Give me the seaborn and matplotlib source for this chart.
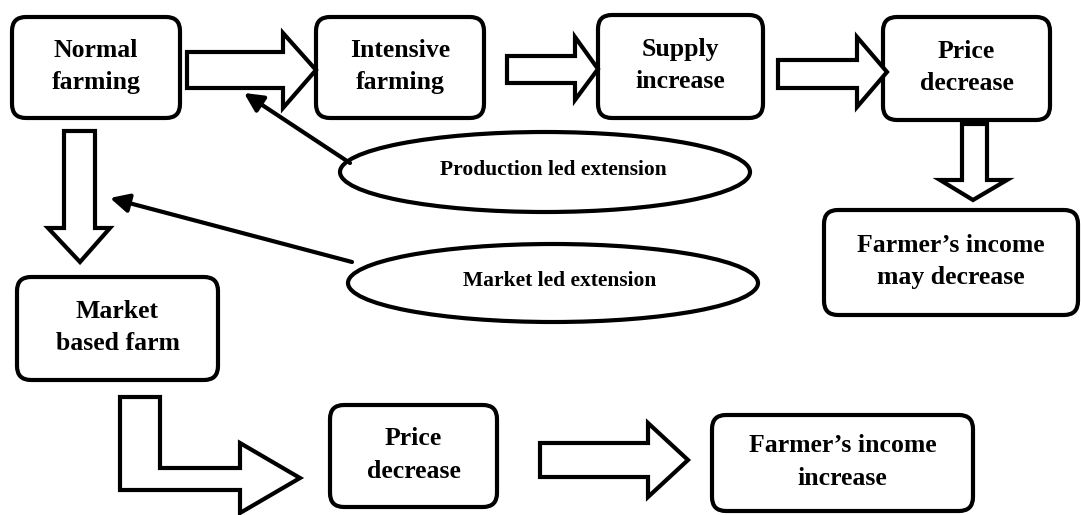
import seaborn as sns
import matplotlib.pyplot as plt
from matplotlib.patches import FancyBboxPatch, Ellipse, Polygon

# Flowchart content
box_labels = ["Normal\nfarming", "Intensive\nfarming", "Supply\nincrease", "Price\ndecrease",
              "Farmer\u2019s income\nmay decrease", "Market\nbased farm", "Price\ndecrease",
              "Farmer\u2019s income\nincrease"]
box_x0 = [12, 316, 598, 883, 824, 17, 330, 712]
box_y0 = [17, 17, 15, 17, 210, 277, 405, 415]
box_x1 = [180, 484, 763, 1050, 1078, 218, 497, 973]
box_y1 = [118, 118, 118, 120, 315, 380, 507, 511]

oval_labels = ["Production led extension", "Market led extension"]
oval_cx = [545, 553]
oval_cy = [172, 283]
oval_w = [410, 410]
oval_h = [80, 78]
oval_text_x = [553, 560]

# thin arrows: start (on oval) -> tip
thin_start = [(350, 163), (352, 262)]
thin_tip = [(244, 93), (110, 198)]

# hollow block arrows (outline vertices)
block_arrows = [
    [(187, 52), (283, 52), (283, 33), (316, 70), (283, 108), (283, 88), (187, 88)],
    [(507, 56), (575, 56), (575, 37), (598, 69), (575, 100), (575, 83), (507, 83)],
    [(778, 60), (857, 60), (857, 37), (887, 72), (857, 107), (857, 88), (778, 88)],
    [(962, 124), (987, 124), (987, 180), (1007, 180), (973, 200), (940, 180), (962, 180)],
    [(64, 131), (95, 131), (95, 228), (110, 228), (80, 262), (48, 228), (64, 228)],
    [(120, 397), (160, 397), (160, 468), (240, 468), (240, 443), (300, 478),
     (240, 513), (240, 490), (120, 490)],
    [(540, 443), (648, 443), (648, 423), (688, 460), (648, 497), (648, 477), (540, 477)],
]

sns.set_theme(style="white")
plt.rcParams['font.family'] = ['Liberation Serif', 'DejaVu Serif']

fig = plt.figure(figsize=(10.81, 5.15), dpi=100)
ax = fig.add_axes([0, 0, 1, 1])
ax.set_xlim(0, 1081)
ax.set_ylim(515, 0)
ax.axis("off")

lw = 3

for lab, x0, y0, x1, y1 in zip(box_labels, box_x0, box_y0, box_x1, box_y1):
    ax.add_patch(FancyBboxPatch((x0, y0), x1 - x0, y1 - y0,
                                boxstyle="round,pad=0,rounding_size=14",
                                fc="white", ec="black", lw=lw))
    ax.text((x0 + x1) / 2, (y0 + y1) / 2 - 1, lab, ha="center", va="center",
            fontsize=18.5, fontweight="bold", linespacing=1.55, color="black")

for lab, cx, cy, w, h, tx in zip(oval_labels, oval_cx, oval_cy, oval_w, oval_h, oval_text_x):
    ax.add_patch(Ellipse((cx, cy), w, h, fc="white", ec="black", lw=lw))
    ax.text(tx, cy - 2, lab, ha="center", va="center",
            fontsize=15.5, fontweight="bold", color="black")

for pts in block_arrows:
    ax.add_patch(Polygon(pts, closed=True, fc="white", ec="black", lw=lw,
                         joinstyle="miter"))

for s, t in zip(thin_start, thin_tip):
    ax.annotate("", xy=t, xytext=s,
                arrowprops=dict(arrowstyle="-|>", lw=lw, color="black",
                                mutation_scale=28, shrinkA=0, shrinkB=0))

fig.savefig("out.png", dpi=100)
